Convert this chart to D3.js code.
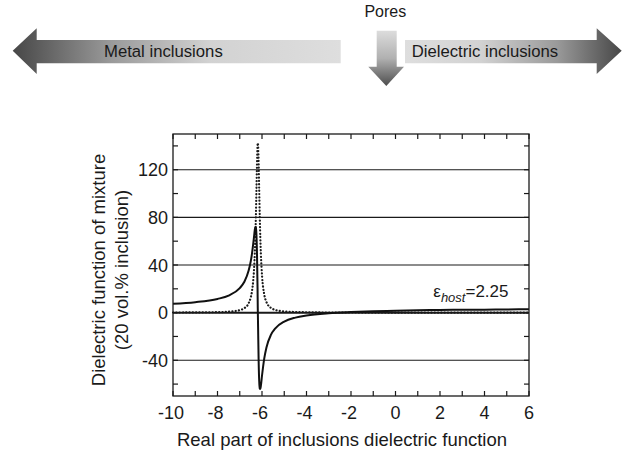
<!DOCTYPE html>
<html>
<head>
<meta charset="utf-8">
<script src="https://cdn.jsdelivr.net/npm/d3@7"></script>
<style>
  body { margin: 0; background: #fff; }
  text { font-family: "Liberation Sans", Arial, sans-serif; fill: #1a1a1a; }
</style>
</head>
<body>
<svg id="chart" width="622" height="453"></svg>
<script>
// inclusion dielectric function (real part) and mixture response
var xVals = [-10, -9, -8, -7.5, -7, -6.8, -6.6, -6.5, -6.45, -6.4, -6.35, -6.325, -6.3, -6.275, -6.25,
    -6.225, -6.2, -6.19, -6.175, -6.15, -6.125, -6.1, -6.075, -6.05, -6, -5.9, -5.8, -5.6, -5.4, -5,
    -4.5, -4, -3, -2, -1, 0, 1, 2, 3, 4, 5, 6];
var realVals = [7.5, 8.8, 11.5, 14.3, 20.6, 25.7, 35.3, 43.7, 49.5, 56.8, 65.1, 69.2, 72.0, 71.9, 65.5,
    49.0, 20.8, 3.9, -13.0, -41.2, -57.7, -64.0, -64.2, -61.3, -53.0, -38.6, -29.2, -18.7, -13.2, -7.5,
    -4.2, -2.4, -0.5, 0.5, 1.2, 1.6, 2.0, 2.2, 2.4, 2.5, 2.7, 2.8];
var imagVals = [0.1, 0.2, 0.4, 0.8, 2.1, 3.7, 7.9, 13.2, 18.0, 25.8, 39.1, 49.3, 62.8, 80.6, 102.4,
    124.8, 140.2, 142.4, 140.2, 124.8, 102.4, 80.6, 62.8, 49.3, 31.5, 15.4, 8.9, 4.0, 2.3, 1.0,
    0.5, 0.3, 0.1, 0.1, 0.05, 0, 0, 0, 0, 0, 0, 0];
var xTicks = [-10, -8, -6, -4, -2, 0, 2, 4, 6];
var yTicks = [-40, 0, 40, 80, 120];
var xTitle = "Real part of inclusions dielectric function";
var yTitle = ["Dielectric function of mixture", "(20 vol.% inclusion)"];

var svg = d3.select("svg#chart");
var pLeft = 173, pRight = 529, pTop = 134, pBottom = 396;

var x = d3.scaleLinear().domain([-10, 6]).range([pLeft, pRight]);
var y = d3.scaleLinear().domain([-70, 150]).range([pBottom, pTop]);

// top arrows
var defs = svg.append("defs");
function grad(id, x1, y1, x2, y2, stops) {
    var g = defs.append("linearGradient").attr("id", id)
        .attr("gradientUnits", "userSpaceOnUse")
        .attr("x1", x1).attr("y1", y1).attr("x2", x2).attr("y2", y2);
    stops.forEach(s => g.append("stop").attr("offset", s[0]).attr("stop-color", s[1]));
}
grad("gl", 13, 0, 341, 0, [[0, "#474747"], [0.3, "#9a9a9a"], [0.6, "#d2d2d2"], [1, "#dedede"]]);
grad("gr", 405, 0, 622, 0, [[0, "#dedede"], [0.35, "#d2d2d2"], [0.7, "#9a9a9a"], [1, "#474747"]]);
grad("gd", 0, 31, 0, 86, [[0, "#dcdcdc"], [0.5, "#b0b0b0"], [1, "#4d4d4d"]]);

svg.append("path").attr("fill", "url(#gl)")
    .attr("d", "M12.7,50.7L36.7,28.3L36.7,40L340.7,40L340.7,63.3L36.7,63.3L36.7,74Z");
svg.append("path").attr("fill", "url(#gr)")
    .attr("d", "M621.7,50.7L596.7,28.3L596.7,40L405,40L405,63.3L596.7,63.3L596.7,74Z");
svg.append("path").attr("fill", "url(#gd)")
    .attr("d", "M376.7,30.7L396.7,30.7L396.7,66.7L404,66.7L386.3,86L368.3,66.7L376.7,66.7Z");

svg.append("text").attr("x", 104).attr("y", 57.3).style("font-size", "16.7px").text("Metal inclusions");
svg.append("text").attr("x", 411.7).attr("y", 57.3).style("font-size", "16.7px").text("Dielectric inclusions");
svg.append("text").attr("x", 385.3).attr("y", 16.7).attr("text-anchor", "middle")
    .style("font-size", "16px").text("Pores");

// grid lines
svg.append("g").selectAll("line")
    .data(yTicks)
    .enter()
    .append("line")
    .attr("x1", pLeft).attr("x2", pRight)
    .attr("y1", d => y(d)).attr("y2", d => y(d))
    .attr("stroke", "#1a1a1a")
    .attr("stroke-width", d => d == 0 ? 2 : 1.2);

// minor ticks on all four sides
var xMinor = d3.range(-10, 7, 1);
var yMinor = d3.range(-60, 150, 20);
var tk = svg.append("g").attr("stroke", "#1a1a1a").attr("stroke-width", 1.2);
xMinor.forEach(v => {
    tk.append("line").attr("x1", x(v)).attr("x2", x(v)).attr("y1", pBottom).attr("y2", pBottom - 5);
    tk.append("line").attr("x1", x(v)).attr("x2", x(v)).attr("y1", pTop).attr("y2", pTop + 5);
});
yMinor.forEach(v => {
    tk.append("line").attr("x1", pLeft).attr("x2", pLeft + 5).attr("y1", y(v)).attr("y2", y(v));
    tk.append("line").attr("x1", pRight).attr("x2", pRight - 5).attr("y1", y(v)).attr("y2", y(v));
});

// curves
var pts = xVals.map((v, i) => [v, realVals[i], imagVals[i]]);
var lineRe = d3.line().curve(d3.curveMonotoneX).x(d => x(d[0])).y(d => y(d[1]));
var lineIm = d3.line().curve(d3.curveMonotoneX).x(d => x(d[0])).y(d => y(d[2]));

svg.append("path").datum(pts)
    .attr("d", lineIm)
    .attr("fill", "none")
    .attr("stroke", "#1a1a1a")
    .attr("stroke-width", 2.2)
    .attr("stroke-linecap", "round")
    .attr("stroke-dasharray", "0.1 3.2");

svg.append("path").datum(pts)
    .attr("d", lineRe)
    .attr("fill", "none")
    .attr("stroke", "#111")
    .attr("stroke-width", 2)
    .attr("stroke-linejoin", "round");

// frame
svg.append("rect")
    .attr("x", pLeft).attr("y", pTop)
    .attr("width", pRight - pLeft).attr("height", pBottom - pTop)
    .attr("fill", "none").attr("stroke", "#1a1a1a").attr("stroke-width", 1.3);

// tick labels
svg.append("g").selectAll("text")
    .data(xTicks)
    .enter()
    .append("text")
    .attr("x", d => x(d) - (d < 0 ? 2 : 0))
    .attr("y", 419)
    .attr("text-anchor", "middle")
    .style("font-size", "18px")
    .text(d => d);

svg.append("g").selectAll("text")
    .data(yTicks)
    .enter()
    .append("text")
    .attr("x", 168)
    .attr("y", d => y(d) + 6.5)
    .attr("text-anchor", "end")
    .style("font-size", "18px")
    .text(d => d);

// axis titles
svg.append("text").attr("x", 342).attr("y", 446).attr("text-anchor", "middle")
    .style("font-size", "18.5px").text(xTitle);

svg.append("g").selectAll("text")
    .data(yTitle)
    .enter()
    .append("text")
    .attr("transform", (d, i) => "translate(" + (105 + i * 23) + ",270) rotate(-90)")
    .attr("text-anchor", "middle")
    .style("font-size", "18.5px")
    .text(d => d);

// host annotation
var ann = svg.append("text").attr("x", 433.3).attr("y", 297).style("font-size", "17px");
ann.append("tspan").text("ε");
ann.append("tspan").attr("dy", 5).style("font-size", "13px").style("font-style", "italic").text("host");
ann.append("tspan").attr("dy", -5).text("=2.25");
</script>
</body>
</html>
